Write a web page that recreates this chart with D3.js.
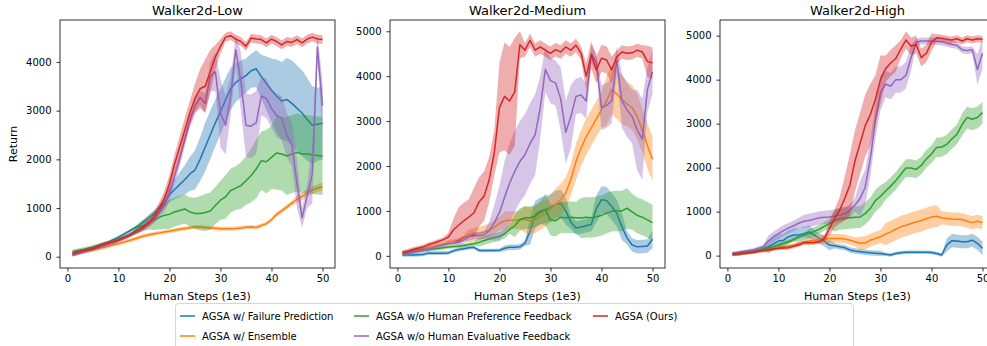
<!DOCTYPE html>
<html>
<head>
<meta charset="utf-8">
<script src="https://cdn.jsdelivr.net/npm/d3@7"></script>
<style>
  body { margin: 0; background: #fff; }
  svg { font-family: "DejaVu Sans", sans-serif; }
</style>
</head>
<body>
<svg id="chart" width="987" height="346"></svg>
<script>
// x positions (human steps, 1e3)
const steps = [1,2,3,4,5,6,7,8,9,10,11,12,13,14,15,16,17,18,19,20,21,22,23,24,25,
  26,27,28,29,30,31,32,33,34,35,36,37,38,39,40,41,42,43,44,45,46,47,48,49,50];

const seriesNames = [
  "AGSA w/ Failure Prediction",
  "AGSA w/ Ensemble",
  "AGSA w/o Human Preference Feedback",
  "AGSA w/o Human Evaluative Feedback",
  "AGSA (Ours)"
];
const seriesColors = ["#1f77b4", "#ff7f0e", "#2ca02c", "#9467bd", "#d62728"];
const panelTitles = ["Walker2d-Low", "Walker2d-Medium", "Walker2d-High"];
const xTicks = [0, 10, 20, 30, 40, 50];
const lowYTicks = [0, 1000, 2000, 3000, 4000];
const medYTicks = [0, 1000, 2000, 3000, 4000, 5000];
const highYTicks = [0, 1000, 2000, 3000, 4000, 5000];

// Walker2d-Low
const lowBlue = [30,60,95,135,180,220,260,300,350,400, 460,520,580,640,720,800,880,970,1100,1270,
  1380,1480,1580,1700,1780,2000,2250,2500,2750,2980, 3220,3450,3580,3650,3720,3820,3860,3700,3560,3420,
  3300,3200,3230,3150,3050,2950,2820,2700,2720,2740];
const lowBlueSd = [30,30,30,30,30,30,30,30,30,30, 30,30,30,30,50,60,70,90,110,150,
  200,250,300,350,400,450,500,500,480,460, 450,430,400,380,350,350,380,450,550,650,
  750,800,850,880,880,880,850,800,750,750];
const lowOrange = [60,75,95,115,140,165,190,215,245,270, 300,330,360,395,425,450,470,490,510,525,
  545,565,580,595,610,610,600,590,585,575, 575,575,580,590,605,610,600,640,680,760,
  870,940,1020,1100,1180,1240,1310,1370,1410,1440];
const lowOrangeSd = [40,40,40,40,40,40,40,40,40,40, 40,40,40,40,40,40,40,40,40,40,
  40,40,40,40,40,40,40,40,40,40, 40,40,40,40,40,40,40,40,40,40,
  50,50,50,50,80,80,80,80,80,80];
const lowGreen = [110,130,150,175,200,230,260,290,320,360, 400,440,510,600,650,710,750,810,850,870,
  920,950,980,920,890,890,910,940,1050,1160, 1230,1360,1410,1460,1560,1670,1800,1970,1950,2040,
  2130,2110,2070,2110,2140,2110,2110,2090,2080,2070];
const lowGreenSd = [40,40,40,40,40,40,40,40,40,40, 50,50,80,100,120,150,200,250,280,300,
  300,300,300,300,320,350,380,380,380,400, 450,450,450,480,500,550,600,600,650,650,
  750,750,800,800,800,800,800,800,800,800];
const lowPurple = [50,70,95,120,150,185,220,255,290,330, 380,430,480,530,600,680,770,900,1050,1300,
  1650,2000,2400,2800,3100,3270,3150,3700,3800,2950, 2700,3300,4250,3600,2700,2680,2750,3300,3250,3050,
  2900,2850,2500,2300,1500,800,1250,1700,4300,3100];
const lowPurpleSd = [40,40,40,40,40,40,40,40,40,40, 40,40,40,50,60,70,80,100,120,150,
  150,150,150,150,150,150,200,300,400,700, 600,400,300,600,650,650,650,400,400,400,
  450,450,450,450,500,200,250,600,300,500];
const lowRed = [70,95,120,145,170,210,250,285,310,340, 390,430,490,545,620,700,820,1000,1200,1500,
  1900,2250,2600,2950,3250,3450,3500,3800,4100,4320, 4510,4540,4470,4420,4320,4490,4470,4460,4390,4470,
  4420,4350,4420,4400,4460,4390,4470,4510,4470,4460];
const lowRedSd = [40,40,40,40,40,40,40,40,40,40, 40,40,40,60,70,80,100,120,150,180,
  200,220,250,250,300,400,550,450,250,150, 90,90,90,90,90,90,90,90,90,90,
  90,90,90,90,90,90,90,90,90,90];

// Walker2d-Medium
const medBlue = [20,20,20,25,30,60,60,60,60,65, 110,140,160,180,190,120,120,120,120,125,
  170,190,190,200,280,550,920,1000,1030,1070, 1150,1170,1000,750,620,640,670,700,1050,1250,
  1230,1100,950,650,400,240,200,210,220,370];
const medBlueSd = [40,40,40,40,40,40,40,40,40,40, 40,40,40,40,40,40,40,40,40,40,
  60,60,60,60,60,300,300,300,300,300, 300,300,300,150,150,150,150,150,300,300,
  300,300,300,300,150,150,150,150,150,200];
const medOrange = [50,80,110,135,160,185,210,240,270,300, 320,340,410,440,470,500,530,570,640,720,
  780,790,795,800,815,775,810,880,950,1050, 1150,1250,1400,1700,2100,2400,2650,2850,3050,3250,
  3450,3700,3600,3480,3380,3300,3100,2800,2450,2150];
const medOrangeSd = [50,50,50,50,50,50,50,50,50,50, 50,50,50,150,150,150,150,150,150,150,
  200,200,200,200,300,300,300,300,300,300, 350,350,350,350,400,400,400,400,400,400,
  550,550,550,550,500,500,500,500,500,500];
const medGreen = [50,70,90,105,120,135,150,165,180,195, 205,215,230,250,270,300,340,375,410,430,
  485,590,670,810,850,850,880,960,1030,800, 780,860,850,860,850,840,860,850,870,900,
  950,990,1000,1000,1060,980,900,860,800,740];
const medGreenSd = [40,40,40,40,40,40,40,40,40,40, 40,40,40,40,40,100,100,100,100,100,
  100,100,250,250,250,250,250,250,350,350, 350,350,350,350,350,450,450,450,450,450,
  450,450,450,450,450,400,400,400,400,400];
const medPurple = [40,60,80,100,120,150,180,210,240,270, 280,300,350,420,450,450,470,560,740,960,
  1300,1620,1880,2100,2250,2500,2700,3300,4150,3900, 3850,3500,2750,3100,3550,3580,3450,4500,4300,3300,
  3350,3450,4350,3450,3250,3100,2800,2600,3700,4100];
const medPurpleSd = [40,40,40,40,40,40,40,40,40,40, 40,80,80,80,80,80,80,200,400,600,
  800,900,900,900,900,900,900,700,500,500, 500,700,700,700,400,400,400,200,200,500,
  500,500,300,600,600,600,900,900,500,500];
const medRed = [80,100,140,170,195,245,280,320,360,420, 580,680,780,860,960,1200,1330,1700,2300,3300,
  3550,3450,3650,4700,4580,4800,4580,4650,4580,4510, 4590,4540,4650,4580,4690,4510,4000,4470,4140,4400,
  4360,4140,4430,4540,4510,4520,4580,4540,4330,4290];
const medRedSd = [50,50,50,50,50,50,50,50,50,100, 250,400,400,400,550,550,550,500,500,1000,
  1200,1200,1200,300,150,150,150,150,150,150, 150,150,150,150,150,150,300,300,300,300,
  300,300,150,150,150,150,150,150,350,350];

// Walker2d-High
const highBlue = [30,45,60,75,90,125,160,200,265,330, 350,430,470,470,500,540,470,390,330,240,
  225,200,180,130,105,90,75,65,55,50, 30,15,50,65,75,75,75,75,75,70,
  50,15,240,340,330,315,315,350,280,165];
const highBlueSd = [40,40,40,40,40,40,40,150,150,150, 150,150,150,150,150,150,120,120,120,120,
  60,60,60,60,60,60,60,60,60,60, 40,40,40,40,40,40,40,40,40,40,
  40,40,150,150,150,150,150,150,150,150];
const highOrange = [30,40,55,70,90,110,130,150,165,180, 200,220,240,280,315,330,350,365,375,390,
  390,390,380,350,315,280,290,350,390,430, 490,540,600,655,690,730,765,800,840,880,
  895,860,845,830,825,820,780,750,780,750];
const highOrangeSd = [40,40,40,40,40,40,40,40,40,40, 40,40,40,40,40,100,100,100,100,100,
  100,100,100,100,100,150,150,150,150,150, 250,250,250,250,250,250,250,250,250,250,
  250,150,150,150,150,150,150,150,150,150];
const highGreen = [30,45,60,75,90,120,150,180,210,240, 280,315,370,430,465,500,550,600,665,730,
  800,840,850,860,870,880,955,1070,1250,1350, 1470,1580,1700,1850,1990,1990,1960,2050,2200,2310,
  2460,2470,2530,2650,2760,2980,3140,3100,3140,3250];
const highGreenSd = [50,50,50,50,50,50,50,50,50,50, 50,50,50,50,50,100,100,100,100,100,
  250,250,250,250,250,250,250,250,250,250, 200,200,200,200,200,200,200,200,200,200,
  220,220,220,220,220,250,250,250,250,250];
const highPurple = [50,70,90,110,130,165,200,330,430,500, 570,630,680,740,780,800,830,860,870,880,
  900,920,950,1020,1150,1300,1550,2200,3050,3700, 3900,3850,4000,4000,4100,4500,4850,4880,4880,4880,
  4870,4860,4830,4800,4780,4680,4660,4680,4230,4600];
const highPurpleSd = [40,40,40,40,40,40,40,120,120,120, 120,120,120,120,150,150,150,150,150,150,
  150,150,150,150,150,400,400,400,400,400, 300,300,300,300,300,300,80,80,80,80,
  80,80,80,80,80,80,80,80,350,350];
const highRed = [30,40,55,65,75,95,110,130,150,165, 175,180,210,240,290,295,300,315,390,615,
  840,1030,1300,1600,2150,2550,2950,3200,3550,4000, 4250,4380,4480,4700,4900,4760,4800,4500,4600,4850,
  4950,4940,4920,4900,4930,4880,4930,4900,4930,4920];
const highRedSd = [40,40,40,40,40,40,40,40,40,40, 40,40,40,40,40,40,40,40,80,150,
  200,300,500,700,700,700,700,700,550,550, 300,300,300,200,200,200,200,200,200,200,
  80,80,80,80,80,80,80,80,80,80];

const panels = [
  { title: panelTitles[0], yTicks: lowYTicks, series: [
    [lowBlue, lowBlueSd], [lowOrange, lowOrangeSd], [lowGreen, lowGreenSd],
    [lowPurple, lowPurpleSd], [lowRed, lowRedSd]] },
  { title: panelTitles[1], yTicks: medYTicks, series: [
    [medBlue, medBlueSd], [medOrange, medOrangeSd], [medGreen, medGreenSd],
    [medPurple, medPurpleSd], [medRed, medRedSd]] },
  { title: panelTitles[2], yTicks: highYTicks, series: [
    [highBlue, highBlueSd], [highOrange, highOrangeSd], [highGreen, highGreenSd],
    [highPurple, highPurpleSd], [highRed, highRedSd]] }
];

const panelLeft = [60, 390, 720];
const panelTop = 20;
const panelW = 275;
const panelH = 248;

const svg = d3.select("#chart");
const defs = svg.append("defs");

// matplotlib-like 5% margins on x
const [xMin, xMax] = d3.extent(steps);
const xPad = (xMax - xMin) * 0.05;

panels.forEach((p, pi) => {
  const g = svg.append("g")
    .attr("transform", `translate(${panelLeft[pi]},${panelTop})`);

  const lo = d3.min(p.series, (s) => d3.min(s[0], (v, i) => v - s[1][i]));
  const hi = d3.max(p.series, (s) => d3.max(s[0], (v, i) => v + s[1][i]));
  const yPad = (hi - lo) * 0.05;

  const x = d3.scaleLinear().domain([xMin - xPad, xMax + xPad]).range([0, panelW]);
  const y = d3.scaleLinear().domain([lo - yPad, hi + yPad]).range([panelH, 0]);

  defs.append("clipPath").attr("id", `clip-${pi}`)
    .append("rect").attr("width", panelW).attr("height", panelH);

  const plot = g.append("g").attr("clip-path", `url(#clip-${pi})`);

  const area = d3.area()
    .x((d) => x(d.x))
    .y0((d) => y(d.m - d.s))
    .y1((d) => y(d.m + d.s));
  const line = d3.line()
    .x((d) => x(d.x))
    .y((d) => y(d.m));

  p.series.forEach(([mean, sd], si) => {
    const pts = steps.map((s, i) => ({ x: s, m: mean[i], s: sd[i] }));
    plot.append("path")
      .datum(pts)
      .attr("d", area)
      .attr("fill", seriesColors[si])
      .attr("fill-opacity", 0.38)
      .attr("stroke", "none");
    plot.append("path")
      .datum(pts)
      .attr("d", line)
      .attr("fill", "none")
      .attr("stroke", seriesColors[si])
      .attr("stroke-width", 1.5)
      .attr("stroke-linejoin", "round");
  });

  // X axis
  const xAxis = g.append("g")
    .attr("transform", `translate(0,${panelH})`)
    .call(d3.axisBottom(x).tickValues(xTicks).tickSize(3.5).tickPadding(3.5));
  // Y axis
  const yAxis = g.append("g")
    .call(d3.axisLeft(y).tickValues(p.yTicks).tickFormat(d3.format("d")).tickSize(3.5).tickPadding(5));

  [xAxis, yAxis].forEach((a) => {
    a.select(".domain").remove();
    a.selectAll(".tick line").attr("stroke", "#000").attr("stroke-width", 0.8);
    a.selectAll(".tick text")
      .attr("fill", "#000")
      .style("font-size", "10px")
      .style("font-family", '"DejaVu Sans", sans-serif');
  });

  // Frame
  g.append("rect")
    .attr("width", panelW)
    .attr("height", panelH)
    .attr("fill", "none")
    .attr("stroke", "#000")
    .attr("stroke-width", 0.8);

  // Title
  g.append("text")
    .attr("x", panelW / 2)
    .attr("y", -5)
    .attr("text-anchor", "middle")
    .style("font-size", "13px")
    .attr("fill", "#000")
    .text(p.title);

  // X label
  g.append("text")
    .attr("x", panelW / 2)
    .attr("y", panelH + 32)
    .attr("text-anchor", "middle")
    .style("font-size", "11px")
    .attr("fill", "#000")
    .text("Human Steps (1e3)");

  if (pi === 0) {
    g.append("text")
      .attr("transform", `translate(${-43},${panelH / 2}) rotate(-90)`)
      .attr("text-anchor", "middle")
      .style("font-size", "11px")
      .attr("fill", "#000")
      .text("Return");
  }
});

// Legend (3 columns, filled column-wise)
const legend = svg.append("g");
legend.append("rect")
  .attr("x", 175.5)
  .attr("y", 303.5)
  .attr("width", 678)
  .attr("height", 56)
  .attr("rx", 3)
  .attr("fill", "#fff")
  .attr("fill-opacity", 0.8)
  .attr("stroke", "#cccccc")
  .attr("stroke-width", 0.8);

const legendColX = [180, 354, 593];
const legendRowY = [316, 336];
seriesNames.forEach((name, i) => {
  const col = Math.floor(i / 2);
  const row = i % 2;
  const item = legend.append("g")
    .attr("transform", `translate(${legendColX[col]},${legendRowY[row]})`);
  item.append("line")
    .attr("x1", 0).attr("x2", 15)
    .attr("stroke", seriesColors[i])
    .attr("stroke-width", 1.5);
  item.append("text")
    .attr("x", 22)
    .attr("dy", "0.35em")
    .style("font-size", "10px")
    .attr("fill", "#000")
    .text(name);
});
</script>
</body>
</html>
